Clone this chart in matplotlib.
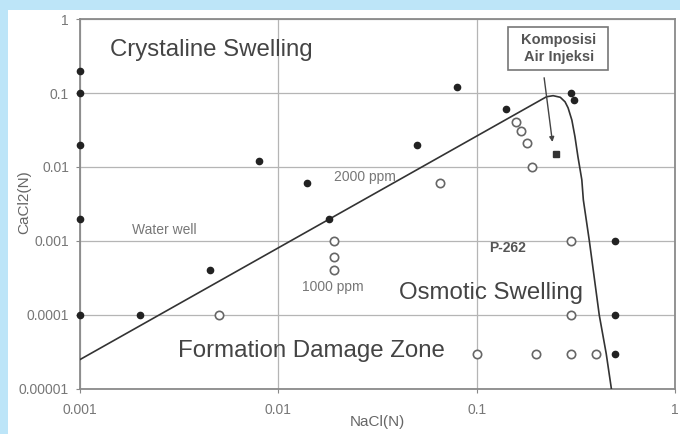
import matplotlib.pyplot as plt
from matplotlib.patches import Rectangle
from matplotlib.ticker import FixedLocator, NullLocator

plt.rcParams['font.family'] = ['Liberation Sans', 'DejaVu Sans']

# Measured samples: filled dots
nacl_filled = [0.001, 0.001, 0.001, 0.001, 0.001, 0.002, 0.0045, 0.008, 0.014,
               0.018, 0.05, 0.08, 0.14, 0.3, 0.31, 0.5, 0.5, 0.5]
cacl_filled = [0.2, 0.1, 0.02, 0.002, 0.0001, 0.0001, 0.0004, 0.012, 0.006,
               0.002, 0.02, 0.12, 0.06, 0.1, 0.08, 0.001, 0.0001, 0.00003]

# Measured samples: open circles
nacl_open = [0.005, 0.019, 0.019, 0.019, 0.065, 0.157, 0.167, 0.18, 0.19,
             0.3, 0.3, 0.3, 0.1, 0.2, 0.4]
cacl_open = [0.0001, 0.001, 0.0006, 0.0004, 0.006, 0.04, 0.031, 0.021, 0.01,
             0.001, 0.0001, 0.00003, 0.00003, 0.00003, 0.00003]

# Injection water composition
nacl_inj = [0.25]
cacl_inj = [0.015]

# Boundary between the swelling zones
nacl_bound = [0.001, 0.225, 0.243, 0.264, 0.279, 0.289, 0.302, 0.313, 0.324,
              0.339, 0.345, 0.37, 0.415, 0.45, 0.478]
cacl_bound = [2.5e-5, 0.089, 0.092, 0.0875, 0.076, 0.063, 0.043, 0.0257, 0.0138,
              0.0067, 0.0036, 0.001, 1e-4, 3e-5, 1e-5]

x_ticks = [0.001, 0.01, 0.1, 1]
x_labels = ['0.001', '0.01', '0.1', '1']
y_ticks = [0.00001, 0.0001, 0.001, 0.01, 0.1, 1]
y_labels = ['0.00001', '0.0001', '0.001', '0.01', '0.1', '1']

fig = plt.figure(figsize=(6.8, 4.34), dpi=100)
fig.patch.set_facecolor('#bde5f8')
# white panel behind the chart
panel = Rectangle((8 / 680, 0), 1, 1 - 10 / 434, transform=fig.transFigure,
                  facecolor='white', edgecolor='none', zorder=-10)
fig.add_artist(panel)

ax = fig.add_axes([80 / 680, 45 / 434, 595 / 680, 370 / 434])
ax.set_facecolor('white')
ax.set_xscale('log')
ax.set_yscale('log')
ax.set_xlim(0.001, 1)
ax.set_ylim(0.00001, 1)

ax.xaxis.set_major_locator(FixedLocator(x_ticks))
ax.xaxis.set_minor_locator(NullLocator())
ax.yaxis.set_major_locator(FixedLocator(y_ticks))
ax.yaxis.set_minor_locator(NullLocator())
ax.set_xticklabels(x_labels)
ax.set_yticklabels(y_labels)
ax.tick_params(labelsize=10, colors='#888', length=3, width=0.8, labelcolor='#777')
ax.tick_params(axis='x', pad=7)
ax.tick_params(axis='y', pad=5)

ax.grid(True, color='#b5b5b5', linewidth=0.9)
for s in ax.spines.values():
    s.set_color('#8a8a8a')
    s.set_linewidth(1.3)

ax.plot(nacl_bound, cacl_bound, color='#333', linewidth=1.2, zorder=3)
ax.plot(nacl_filled, cacl_filled, 'o', color='#222', markersize=4.5, clip_on=False, zorder=4)
ax.plot(nacl_open, cacl_open, 'o', mfc='white', mec='#666', mew=1.2, markersize=6,
        clip_on=False, zorder=4)
ax.plot(nacl_inj, cacl_inj, 's', color='#333', markersize=4.5, zorder=4)

big = dict(fontsize=17.3, color='#444', va='center', ha='left')
ax.text(0.00142, 0.38, 'Crystaline Swelling', **big)
ax.text(0.0404, 0.0002, 'Osmotic Swelling', **big)
ax.text(0.00312, 0.0000326, 'Formation Damage Zone', **big)

small = dict(fontsize=10, color='#777', va='center', ha='left')
ax.text(0.019, 0.0073, '2000 ppm', **small)
ax.text(0.0132, 0.00024, '1000 ppm', **small)
ax.text(0.00183, 0.0014, 'Water well', **small)
ax.text(0.116, 0.0008, 'P-262', fontsize=10, color='#555', fontweight='bold',
        va='center', ha='left')

# callout box for the injection water point
ax.add_patch(Rectangle((0.719, 0.862), 0.168, 0.116, transform=ax.transAxes,
                       facecolor='white', edgecolor='#777', linewidth=1.2, zorder=5))
ax.text(0.805, 0.921, 'Komposisi\nAir Injeksi', transform=ax.transAxes, fontsize=10.5,
        color='#555', fontweight='bold', ha='center', va='center', linespacing=1.3, zorder=6)
ax.annotate('', xy=(0.242, 0.02), xytext=(0.218, 0.175),
            arrowprops=dict(arrowstyle='-|>', color='#444', linewidth=1.0, mutation_scale=7))

ax.set_xlabel('NaCl(N)', fontsize=11, color='#666')
ax.xaxis.set_label_coords(0.5, -0.07)
ax.set_ylabel('CaCl2(N)', fontsize=11, color='#666')
ax.yaxis.set_label_coords(-0.082, 0.505)

fig.savefig('out.png', dpi=100, facecolor=fig.get_facecolor())
